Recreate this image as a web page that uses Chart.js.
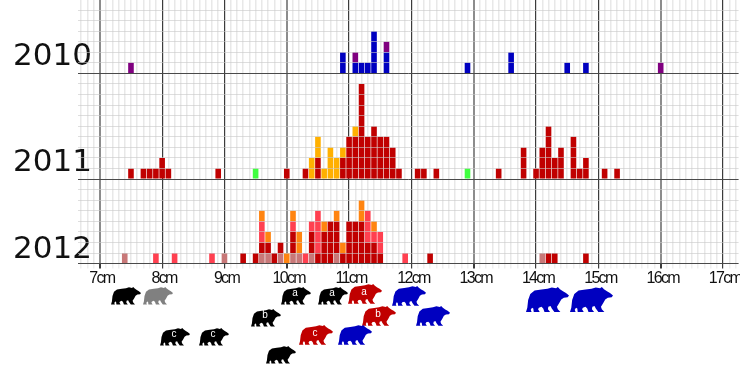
<!DOCTYPE html>
<html>
<head>
<meta charset="utf-8">
<script src="https://cdn.jsdelivr.net/npm/chart.js@4"></script>
<style>html,body{margin:0;padding:0;background:#fff}canvas{display:block}</style>
</head>
<body>
<canvas id="c" width="740" height="367"></canvas>
<script>
// bins every 0.1 cm; values are [size in cm, number of individuals]
const binStart = 6.7, binCount = 106;
const majorCm = [7,8,9,10,11,12,13,14,15,16,17];
const softMajorCm = [7,10,13,16];
const years = ['2010','2011','2012'];

const blue2010 = [[10.9,2],[11.1,1],[11.2,1],[11.3,1],[11.4,4],[11.6,2],[12.9,1],[13.6,2],[14.5,1],[14.8,1]];
const purple2010 = [[7.5,1],[11.1,1],[11.6,1],[16.0,1]];

const red2011 = [[7.5,1],[7.7,1],[7.8,1],[7.9,1],[8.0,2],[8.1,1],[8.9,1],[10.0,1],[10.3,1],[10.5,2],[10.9,2],[11.0,4],[11.1,4],[11.2,9],[11.3,4],[11.4,5],[11.5,4],[11.6,4],[11.7,3],[11.8,1],[12.1,1],[12.2,1],[12.4,1],[13.4,1],[13.8,3],[14.0,1],[14.1,3],[14.2,5],[14.3,2],[14.4,3],[14.6,4],[14.7,1],[14.8,2],[15.1,1],[15.3,1]];
const amber2011 = [[10.4,2],[10.5,2],[10.6,1],[10.7,3],[10.8,2],[10.9,1],[11.1,1]];
const green2011 = [[9.5,1],[12.9,1]];

const pink2012 = [[7.4,1],[9.0,1],[9.6,1],[9.7,1],[9.9,1],[10.1,1],[10.2,1],[10.4,1],[10.8,1],[14.1,1]];
const dark2012 = [[9.3,1],[9.5,1],[9.6,1],[9.7,1],[9.8,1],[9.9,1],[10.1,2],[10.4,2],[10.5,1],[10.6,3],[10.7,4],[10.8,3],[10.9,1],[11.0,4],[11.1,4],[11.2,4],[11.3,2],[11.4,2],[11.5,1],[12.3,1],[14.2,1],[14.3,1],[14.8,1]];
const light2012 = [[7.9,1],[8.2,1],[8.8,1],[9.6,2],[10.1,1],[10.3,1],[10.4,1],[10.5,4],[11.3,3],[11.4,1],[11.5,2],[11.9,1]];
const orange2012 = [[9.6,1],[9.7,1],[10.0,1],[10.1,1],[10.2,2],[10.6,1],[10.8,1],[10.9,1],[11.2,2],[11.4,1]];

// bear pictograms under the axis: colour, left, top, width, letter
const bearMarks = [
  ['#000000',111,287,30,''],['#808080',143,287,30,''],['#000000',281,287,30,'a'],['#000000',318,287,30,'a'],
  ['#c00000',348,284,34,'a'],['#0000c0',392,286,34,''],['#000000',251,309,30,'b'],['#c00000',362,306,34,'b'],
  ['#0000c0',416,306,34,''],['#000000',160,328,30,'c'],['#000000',199,328,30,'c'],['#c00000',299,325,34,'c'],
  ['#0000c0',338,325,34,''],['#000000',266,346,30,''],['#0000c0',526,287,43,''],['#0000c0',570,287,43,'']
];
const bearOutline = [[0,58],[3,48],[5,30],[10,16],[20,8],[36,6],[50,4],[60,1],[70,3],[74,0],[79,5],[86,10],[93,14],[100,20],[97,24],[88,25],[82,29],[77,38],[72,46],[74,52],[80,58],[66,58],[60,50],[57,44],[52,46],[51,52],[56,58],[43,58],[40,50],[36,46],[30,48],[28,52],[32,58],[18,58],[17,50],[14,48],[11,53],[13,58]];

const categories = [];
for (let i = 0; i < binCount; i++) categories.push((binStart + i * 0.1).toFixed(1));
const toDense = pairs => categories.map(c => {
  const hit = pairs.find(p => p[0].toFixed(1) === c);
  return hit ? hit[1] : null;
});
const ds = (label, pairs, color, axis) => ({
  label, data: toDense(pairs), backgroundColor: color, yAxisID: axis,
  categoryPercentage: 1, barPercentage: 0.9, borderWidth: 0
});

const yAxis = (year, max, weight, labelAt, offset) => ({
  type: 'linear', stacked: true, stack: 'years', stackWeight: weight, position: 'left',
  min: 0, max,
  afterFit(s) { s.width = 78; },
  afterBuildTicks(s) { s.ticks = s.ticks.filter(t => t.value < max); },
  border: { display: false },
  grid: {
    z: 1, drawTicks: false, lineWidth: 1,
    color: c => c.tick && c.tick.value === 0 ? '#4a4a4a' : 'rgba(200,200,200,0.6)'
  },
  ticks: {
    stepSize: 1, includeBounds: false, autoSkip: false, mirror: true, padding: -65, labelOffset: offset,
    color: '#111', font: { family: '"DejaVu Sans"', size: 31 },
    callback: v => v === labelAt ? year : ''
  }
});

const bearPlugin = {
  id: 'bears',
  beforeDraw(chart) {
    const s = chart.scales.x;
    if (!s._tightLabels) {
      const orig = s.drawLabels;
      s.drawLabels = function (area) {
        chart.ctx.save();
        chart.ctx.letterSpacing = '-1.7px';
        orig.call(this, area);
        chart.ctx.restore();
      };
      s._tightLabels = true;
    }
  },
  afterDraw(chart) {
    const g = chart.ctx;
    bearMarks.forEach(([col, x, y, w, letter]) => {
      const k = w / 100;
      g.save();
      g.fillStyle = col;
      g.beginPath();
      bearOutline.forEach(([px, py], i) => {
        const X = x + px * k, Y = y + py * k;
        if (i) g.lineTo(X, Y); else g.moveTo(X, Y);
      });
      g.closePath();
      g.fill();
      if (letter) {
        g.fillStyle = '#fff';
        g.font = '10px "Liberation Sans"';
        g.textAlign = 'center';
        g.textBaseline = 'middle';
        g.fillText(letter, x + w * 0.47, y + 6.5 + (w > 30 ? 1.5 : 0));
      }
      g.restore();
    });
  }
};

new Chart(document.getElementById('c'), {
  type: 'bar',
  plugins: [bearPlugin],
  data: {
    labels: categories,
    datasets: [
      ds('2010 blue', blue2010, '#0000c0', 'y2010'),
      ds('2010 purple', purple2010, '#800080', 'y2010'),
      ds('2011 red', red2011, '#c00000', 'y2011'),
      ds('2011 amber', amber2011, '#ffb000', 'y2011'),
      ds('2011 green', green2011, '#40ff40', 'y2011'),
      ds('2012 pink', pink2012, '#c87878', 'y2012'),
      ds('2012 dark', dark2012, '#c00000', 'y2012'),
      ds('2012 light', light2012, '#ff4050', 'y2012'),
      ds('2012 orange', orange2012, '#ff8410', 'y2012')
    ]
  },
  options: {
    responsive: false, animation: false,
    layout: { padding: { left: 0, right: 1.4, top: 0, bottom: 0 } },
    plugins: { legend: { display: false }, tooltip: { enabled: false }, title: { display: false } },
    scales: {
      x: {
        type: 'category', stacked: true, offset: true, position: 'bottom',
        afterFit(s) { s.height = 103.4; },
        border: { display: false },
        grid: {
          offset: false, tickLength: 5,
          color: c => {
            const v = parseFloat(categories[c.index]);
            if (!majorCm.includes(v)) return '#e8e8e8';
            return softMajorCm.includes(v) ? '#8c8c8c' : '#3c3c3c';
          },
          tickColor: c => majorCm.includes(parseFloat(categories[c.index])) ? '#3c3c3c' : '#efefef',
          lineWidth: c => {
            const v = parseFloat(categories[c.index]);
            if (!majorCm.includes(v)) return 1.5;
            return softMajorCm.includes(v) ? 2 : 1.2;
          }
        },
        ticks: {
          autoSkip: false, maxRotation: 0, minRotation: 0, padding: 0, labelOffset: 2,
          color: '#111', font: { family: '"Liberation Sans"', size: 16 },
          callback: (v, i) => majorCm.includes(parseFloat(categories[i])) ? parseFloat(categories[i]) + 'cm' : ''
        }
      },
      y2012: yAxis('2012', 8, 8, 1, -3),
      y2011: yAxis('2011', 10, 10, 2, 5),
      y2010: yAxis('2010', 6.95, 6.95, 2, 5)
    }
  }
});
</script>
</body>
</html>
